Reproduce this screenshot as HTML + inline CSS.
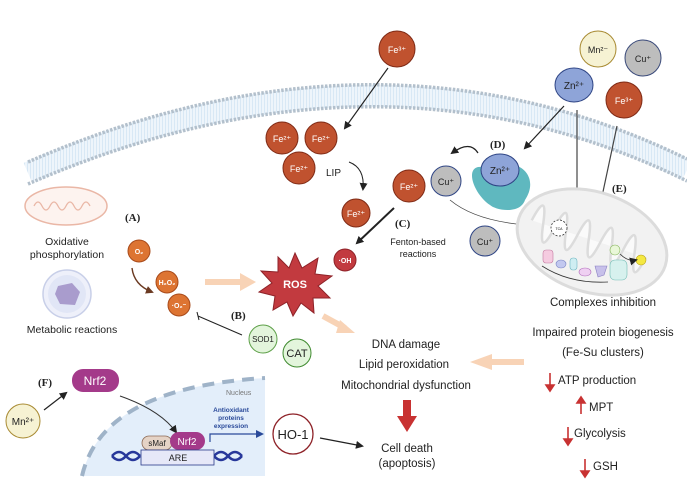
<!DOCTYPE html>
<html><head><meta charset="utf-8"><style>
body{margin:0;background:#fff}
svg{display:block;font-family:"Liberation Sans",sans-serif}
</style></head><body>
<svg width="687" height="481" viewBox="0 0 687 481" xmlns="http://www.w3.org/2000/svg">
<defs>
<marker id="ah" markerWidth="8" markerHeight="8" refX="6" refY="4" orient="auto" markerUnits="userSpaceOnUse"><path d="M0,0 L8,4 L0,8 z" fill="#222"/></marker>
<marker id="ahb" markerWidth="8" markerHeight="8" refX="6" refY="4" orient="auto" markerUnits="userSpaceOnUse"><path d="M0,0 L8,4 L0,8 z" fill="#6b3a22"/></marker>
<marker id="ahblue" markerWidth="8" markerHeight="8" refX="6" refY="4" orient="auto" markerUnits="userSpaceOnUse"><path d="M0,0 L8,4 L0,8 z" fill="#2a4a9a"/></marker>
<pattern id="stripe" width="3" height="4" patternUnits="userSpaceOnUse"><rect width="3" height="4" fill="#eef5fb"/><rect width="1" height="4" fill="#d8e8f5"/></pattern>
</defs>

<!-- membrane -->
<path d="M28,173 Q380,20 687,170" fill="none" stroke="url(#stripe)" stroke-width="22"/>
<path d="M28,162 Q380,9 687,159" fill="none" stroke="#b3c0cc" stroke-width="3.5" stroke-dasharray="2.5 1.5"/>
<path d="M28,184 Q380,31 687,181" fill="none" stroke="#b3c0cc" stroke-width="3.5" stroke-dasharray="2.5 1.5"/>

<!-- nucleus -->
<path d="M82,476 C95,420 150,385 265,378 L265,476 Z" fill="#e3eefa"/>
<path d="M82,476 C95,420 150,385 265,378" fill="none" stroke="#9fb3c8" stroke-width="4" stroke-dasharray="12 8"/>
<text x="226" y="395" font-size="7" fill="#777">Nucleus</text>

<!-- small mitochondrion left -->
<ellipse cx="66" cy="206" rx="41" ry="19" fill="#fdf3ef" stroke="#eab7a6" stroke-width="1.5"/>
<path d="M34,206 q4,-8 8,0 q4,8 8,0 q4,-8 8,0 q4,8 8,0 q4,-8 8,0 q4,8 8,0 q4,-8 8,0" fill="none" stroke="#eab7a6" stroke-width="1.3"/>
<text x="67" y="245" font-size="10.5" text-anchor="middle" fill="#222">Oxidative</text>
<text x="67" y="258" font-size="10.5" text-anchor="middle" fill="#222">phosphorylation</text>
<circle cx="67" cy="294" r="24" fill="#eef0fa" stroke="#c8cfe8" stroke-width="1.5"/>
<circle cx="67" cy="294" r="19" fill="#e1e6f6"/>
<path d="M58,286 L72,283 L80,292 L75,305 L60,304 L55,294 Z" fill="#a99ccd"/>
<text x="72" y="333" font-size="10.5" text-anchor="middle" fill="#222">Metabolic reactions</text>

<!-- (A) -->
<text x="125" y="221" font-size="11" font-weight="bold" font-family="Liberation Serif,serif" fill="#222">(A)</text>
<circle cx="139" cy="251" r="11" fill="#dd7432" stroke="#a84a1a"/>
<text x="139" y="254" font-size="7" fill="#fff" text-anchor="middle" font-weight="bold">O₂</text>
<path d="M132,268 Q134,285 152,292" fill="none" stroke="#6b3a22" stroke-width="1.4" marker-end="url(#ahb)"/>
<circle cx="167" cy="282" r="11" fill="#dd7432" stroke="#a84a1a"/>
<text x="167" y="285" font-size="7" fill="#fff" text-anchor="middle" font-weight="bold">H₂O₂</text>
<circle cx="179" cy="305" r="11" fill="#dd7432" stroke="#a84a1a"/>
<text x="179" y="308" font-size="7" fill="#fff" text-anchor="middle" font-weight="bold">·O₂⁻</text>
<path d="M205,282 L243,282" stroke="#f8d3b6" stroke-width="6"/>
<path d="M240,273 L256,282 L240,291 Z" fill="#f8d3b6"/>

<!-- ROS star -->
<path d="M295,253 L302,268 L318,258 L315,274 L332,276 L318,286 L330,298 L313,298 L314,313 L301,303 L293,316 L287,302 L273,310 L275,296 L259,292 L272,283 L261,271 L278,272 L278,257 L289,268 Z" fill="#c23a3f" stroke="#8e2228" stroke-width="1"/>
<text x="295" y="288" font-size="11" fill="#fff" font-weight="bold" text-anchor="middle">ROS</text>

<!-- (B) -->
<text x="231" y="319" font-size="11" font-weight="bold" font-family="Liberation Serif,serif" fill="#222">(B)</text>
<line x1="198" y1="316" x2="242" y2="335" stroke="#222" stroke-width="1"/>
<line x1="197" y1="312" x2="199" y2="320" stroke="#222" stroke-width="1"/>
<circle cx="263" cy="339" r="14" fill="#e3f5dc" stroke="#5ea049"/>
<text x="263" y="342" font-size="8" text-anchor="middle" fill="#222">SOD1</text>
<circle cx="297" cy="353" r="14" fill="#e3f5dc" stroke="#3f8a2f"/>
<text x="297" y="357" font-size="11" text-anchor="middle" fill="#222">CAT</text>

<path d="M323,316 L345,328" stroke="#f8d3b6" stroke-width="6"/>
<path d="M340,320 L355,333 L336,333 Z" fill="#f8d3b6"/>

<!-- Fe cluster -->
<g font-size="9" fill="#fff" text-anchor="middle">
<circle cx="397" cy="49" r="18" fill="#c0522f" stroke="#7f2a15"/><text x="397" y="53">Fe³⁺</text>
<circle cx="282" cy="138" r="16" fill="#c0522f" stroke="#7f2a15"/><text x="282" y="142">Fe²⁺</text>
<circle cx="321" cy="138" r="16" fill="#c0522f" stroke="#7f2a15"/><text x="321" y="142">Fe²⁺</text>
<circle cx="299" cy="168" r="16" fill="#c0522f" stroke="#7f2a15"/><text x="299" y="172">Fe²⁺</text>
<circle cx="356" cy="213" r="14" fill="#c0522f" stroke="#7f2a15"/><text x="356" y="217">Fe²⁺</text>
<circle cx="409" cy="186" r="16" fill="#c0522f" stroke="#7f2a15"/><text x="409" y="190">Fe²⁺</text>
<circle cx="345" cy="260" r="11" fill="#c23a3f" stroke="#8e2228"/><text x="345" y="263" font-size="7" font-weight="bold">·OH</text>
</g>
<line x1="388" y1="68" x2="345" y2="128" stroke="#222" stroke-width="1.2" marker-end="url(#ah)"/>
<text x="326" y="176" font-size="10" fill="#222">LIP</text>
<path d="M349,162 Q365,168 363,189" fill="none" stroke="#222" stroke-width="1" marker-end="url(#ah)"/>
<line x1="394" y1="208" x2="357" y2="243" stroke="#222" stroke-width="2" marker-end="url(#ah)"/>
<text x="395" y="227" font-size="11" font-weight="bold" font-family="Liberation Serif,serif" fill="#222">(C)</text>
<text x="418" y="245" font-size="9" text-anchor="middle" fill="#222">Fenton-based</text>
<text x="418" y="257" font-size="9" text-anchor="middle" fill="#222">reactions</text>

<!-- top right ions -->
<g font-size="9" text-anchor="middle">
<circle cx="598" cy="49" r="18" fill="#f6f2d3" stroke="#a88a32"/><text x="598" y="53" fill="#222">Mn²⁻</text>
<circle cx="643" cy="58" r="18" fill="#bdbdbd" stroke="#3a4a7a"/><text x="643" y="62" fill="#222">Cu⁺</text>
<ellipse cx="574" cy="85" rx="19" ry="17" fill="#8ea4d8" stroke="#2f4585"/><text x="574" y="89" fill="#222" font-size="10">Zn²⁺</text>
<circle cx="624" cy="100" r="18" fill="#c0522f" stroke="#7f2a15"/><text x="624" y="104" fill="#fff">Fe³⁺</text>
</g>
<line x1="564" y1="106" x2="525" y2="148" stroke="#222" stroke-width="1.2" marker-end="url(#ah)"/>
<line x1="577" y1="110" x2="577" y2="228" stroke="#444" stroke-width="1.2" marker-end="url(#ah)"/>
<line x1="617" y1="126" x2="594" y2="234" stroke="#444" stroke-width="1.2" marker-end="url(#ah)"/>

<!-- (D) -->
<text x="490" y="148" font-size="11" font-weight="bold" font-family="Liberation Serif,serif" fill="#222">(D)</text>
<path d="M478,167 C465,170 475,195 490,205 C495,210 520,215 525,200 C535,185 530,170 515,165 Z" fill="#5fb8bf"/>
<ellipse cx="500" cy="170" rx="19" ry="16" fill="#8ea4d8" stroke="#2f4585"/>
<text x="500" y="174" font-size="10" text-anchor="middle" fill="#222">Zn²⁺</text>
<path d="M478,153 Q470,140 452,153" fill="none" stroke="#222" stroke-width="1.2" marker-end="url(#ah)"/>
<circle cx="446" cy="181" r="15" fill="#bdbdbd" stroke="#2f4585"/>
<text x="446" y="185" font-size="9" text-anchor="middle" fill="#222">Cu⁺</text>
<circle cx="485" cy="241" r="15" fill="#bdbdbd" stroke="#2f4585"/>
<text x="485" y="245" font-size="9" text-anchor="middle" fill="#222">Cu⁺</text>
<path d="M450,200 Q480,225 548,226" fill="none" stroke="#444" stroke-width="0.8" marker-end="url(#ah)"/>

<!-- big mitochondrion -->
<g transform="rotate(18 592 242)">
<ellipse cx="592" cy="242" rx="77" ry="50" fill="#f2f2f2" stroke="#dcdcdc" stroke-width="3"/>
<path d="M528,240 q6,-35 12,0 q6,35 12,0 q6,-35 12,0 q6,35 12,0 q6,-35 12,0 q6,35 12,0 q6,-35 12,0 q6,35 12,0 q6,-35 12,0 q6,35 12,0" fill="#fafafa" stroke="#dcdcdc" stroke-width="2.5"/>
</g>
<circle cx="559" cy="228" r="8" fill="#fff" stroke="#333" stroke-dasharray="2 1.5" stroke-width="0.8"/>
<text x="559" y="230" font-size="3.5" text-anchor="middle">TCA</text>
<rect x="543" y="250" width="10" height="13" rx="3" fill="#f5cbe0" stroke="#c47aa0" stroke-width="0.6"/>
<ellipse cx="561" cy="264" rx="5" ry="4" fill="#c2c8ef" stroke="#7a84c4" stroke-width="0.6"/>
<rect x="570" y="258" width="7" height="12" rx="3" fill="#cfeef2" stroke="#6fb7c2" stroke-width="0.6"/>
<ellipse cx="585" cy="272" rx="6" ry="4" fill="#efd0f2" stroke="#b36fbd" stroke-width="0.6"/>
<path d="M595,266 L607,266 L604,275 L598,277 Z" fill="#c7c0ea" stroke="#8c80c4" stroke-width="0.6"/>
<rect x="610" y="260" width="17" height="20" rx="5" fill="#d7f1ee" stroke="#73bdb5" stroke-width="0.6"/>
<circle cx="615" cy="250" r="5" fill="#e9f7d8" stroke="#86b55c" stroke-width="0.6"/>
<circle cx="641" cy="260" r="5" fill="#f4e842" stroke="#b9a21a" stroke-width="0.6"/>
<path d="M620,254 Q628,262 636,260" fill="none" stroke="#333" stroke-width="0.8" marker-end="url(#ah)"/>
<path d="M542,266 Q570,284 608,282" fill="none" stroke="#333" stroke-width="0.8"/>
<text x="612" y="192" font-size="11" font-weight="bold" font-family="Liberation Serif,serif" fill="#222">(E)</text>

<!-- right texts -->
<g font-size="11.5" fill="#222">
<text x="603" y="306" text-anchor="middle">Complexes inhibition</text>
<text x="603" y="336" text-anchor="middle">Impaired protein biogenesis</text>
<text x="603" y="356" text-anchor="middle">(Fe-Su clusters)</text>
<text x="558" y="384">ATP production</text>
<text x="589" y="411">MPT</text>
<text x="574" y="437">Glycolysis</text>
<text x="593" y="470">GSH</text>
</g>
<g stroke="#c83232" stroke-width="1.6">
<line x1="550" y1="373" x2="550" y2="387"/><path d="M546,385 L550,391 L554,385 Z" fill="#c83232"/>
<line x1="581" y1="402" x2="581" y2="414"/><path d="M577,403 L581,397 L585,403 Z" fill="#c83232"/>
<line x1="568" y1="427" x2="568" y2="441"/><path d="M564,439 L568,445 L572,439 Z" fill="#c83232"/>
<line x1="585" y1="459" x2="585" y2="473"/><path d="M581,471 L585,477 L589,471 Z" fill="#c83232"/>
</g>
<path d="M524,362 L488,362" stroke="#f8d3b6" stroke-width="6"/>
<path d="M492,354 L470,362 L492,370 Z" fill="#f8d3b6"/>

<!-- center texts -->
<g font-size="11.5" fill="#222" text-anchor="middle">
<text x="406" y="348">DNA damage</text>
<text x="404" y="368">Lipid peroxidation</text>
<text x="406" y="389">Mitochondrial dysfunction</text>
<text x="407" y="452">Cell death</text>
<text x="407" y="467">(apoptosis)</text>
</g>
<rect x="403" y="400" width="8" height="18" fill="#c83232"/>
<path d="M397,416 L417,416 L407,432 Z" fill="#c83232"/>

<!-- (F) -->
<text x="38" y="386" font-size="11" font-weight="bold" font-family="Liberation Serif,serif" fill="#222">(F)</text>
<circle cx="23" cy="421" r="17" fill="#f6f2d3" stroke="#a88a32"/>
<text x="23" y="425" font-size="10" text-anchor="middle" fill="#222">Mn²⁺</text>
<line x1="44" y1="410" x2="66" y2="393" stroke="#222" stroke-width="1.2" marker-end="url(#ah)"/>
<rect x="72" y="369" width="47" height="23" rx="11" fill="#a43a8a"/>
<text x="95" y="385" font-size="12" text-anchor="middle" fill="#fff">Nrf2</text>
<path d="M120,396 Q160,410 176,432" fill="none" stroke="#333" stroke-width="1" marker-end="url(#ah)"/>
<rect x="142" y="436" width="30" height="14" rx="7" fill="#e5d3c6" stroke="#8c6a55" stroke-width="0.8"/>
<text x="157" y="446" font-size="8" text-anchor="middle" fill="#222">sMaf</text>
<rect x="170" y="432" width="35" height="18" rx="9" fill="#a43a8a"/>
<text x="187" y="445" font-size="10" text-anchor="middle" fill="#fff">Nrf2</text>
<path d="M112,456 q7,-8 14,0 q7,8 14,0 M112,456 q7,8 14,0 q7,-8 14,0" fill="none" stroke="#27379a" stroke-width="2.5"/>
<path d="M214,456 q7,-8 14,0 q7,8 14,0 M214,456 q7,8 14,0 q7,-8 14,0" fill="none" stroke="#27379a" stroke-width="2.5"/>
<rect x="141" y="450" width="73" height="15" fill="#e6e8f8" stroke="#2a3a8a" stroke-width="0.8"/>
<text x="178" y="461" font-size="9" text-anchor="middle" fill="#222">ARE</text>
<g font-size="6.5" fill="#2a4a9a" font-weight="bold" text-anchor="middle">
<text x="231" y="412">Antioxidant</text><text x="231" y="420">proteins</text><text x="231" y="428">expression</text>
</g>
<path d="M210,442 L210,434 L262,434" fill="none" stroke="#2a4a9a" stroke-width="1.2" marker-end="url(#ahblue)"/>
<circle cx="293" cy="434" r="20" fill="#fff" stroke="#8e2228" stroke-width="1.3"/>
<text x="293" y="439" font-size="13" text-anchor="middle" fill="#222">HO-1</text>
<line x1="320" y1="438" x2="362" y2="446" stroke="#222" stroke-width="1.2" marker-end="url(#ah)"/>
</svg>
</body></html>
